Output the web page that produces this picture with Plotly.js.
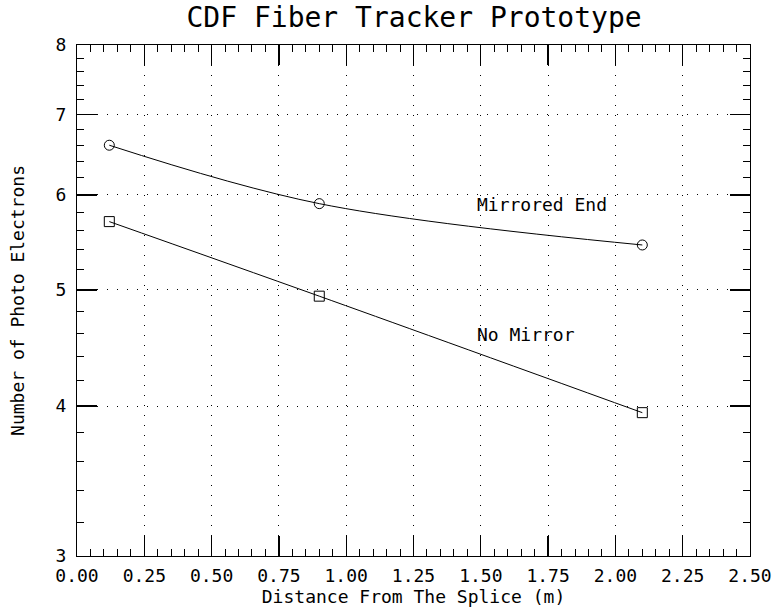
<!DOCTYPE html>
<html>
<head>
<meta charset="utf-8">
<script src="https://cdn.plot.ly/plotly-3.0.1.min.js"></script>
<style>html,body{margin:0;padding:0;background:#fff;}#chart{width:774px;height:607px;}</style>
</head>
<body>
<div id="chart"></div>
<script>
// Data
const distance = [0.12, 0.90, 2.10];
const mirroredEnd = [6.60, 5.90, 5.45];
const noMirror = [5.70, 4.94, 3.95];

const seriesLabels = ["Mirrored End", "No Mirror"];
const labelX = [1.477, 1.477];
const labelY = [5.89, 4.59];

const xTickVals = [0, 0.25, 0.5, 0.75, 1.0, 1.25, 1.5, 1.75, 2.0, 2.25, 2.5];
const xTickText = ["0.00","0.25","0.50","0.75","1.00","1.25","1.50","1.75","2.00","2.25","2.50"];
const xMinorVals = [0.05,0.10,0.15,0.20,0.30,0.35,0.40,0.45,0.55,0.60,0.65,0.70,
                    0.80,0.85,0.90,0.95,1.05,1.10,1.15,1.20,1.30,1.35,1.40,1.45,
                    1.55,1.60,1.65,1.70,1.80,1.85,1.90,1.95,2.05,2.10,2.15,2.20,
                    2.30,2.35,2.40,2.45];
const yTickVals = [3, 4, 5, 6, 7, 8];
const yTickText = ["3","4","5","6","7","8"];
const yMinorVals = [3.2,3.4,3.6,3.8,4.2,4.4,4.6,4.8,5.2,5.4,5.6,5.8,6.2,6.4,6.6,6.8,7.2,7.4,7.6,7.8];

const FONT = "DejaVu Sans Mono, monospace";
const xRange = [0, 2.5];
const yRange = [Math.log10(3), Math.log10(8)];

const lineStyle = {color: "#000", width: 1, shape: "spline", smoothing: 1};

const traces = [
  {x: distance, y: mirroredEnd, mode: "lines+markers", line: lineStyle,
   marker: {symbol: "circle-open", size: 10, color: "#000", line: {width: 1, color: "#000"}},
   name: seriesLabels[0]},
  {x: distance, y: noMirror, mode: "lines+markers", line: lineStyle,
   marker: {symbol: "square-open", size: 10, color: "#000", line: {width: 1, color: "#000"}},
   name: seriesLabels[1]},
  // carrier traces for the tick overlay axes (draw nothing)
  {x: distance, y: noMirror, xaxis: "x2", yaxis: "y2", mode: "none", hoverinfo: "skip", showlegend: false},
  {x: distance, y: noMirror, xaxis: "x3", yaxis: "y3", mode: "none", hoverinfo: "skip", showlegend: false}
];

const annotations = seriesLabels.map((t, i) => ({
  x: labelX[i], y: Math.log10(labelY[i]), xref: "x", yref: "y",
  text: t, showarrow: false, xanchor: "left", yanchor: "middle",
  font: {family: FONT, size: 18, color: "#000"}
}));

const overlayCommon = {ticks: "inside", tickwidth: 1, tickcolor: "#000", zeroline: false,
  showticklabels: false, showgrid: false, showline: false, mirror: "ticks"};

const layout = {
  width: 774, height: 607,
  margin: {l: 77, r: 24, t: 45, b: 51, pad: 0},
  paper_bgcolor: "#fff", plot_bgcolor: "#fff",
  showlegend: false,
  font: {family: FONT, size: 18, color: "#000"},
  title: {text: "CDF Fiber Tracker Prototype", font: {family: FONT, size: 28, color: "#000"},
          x: 0.535, xanchor: "center", y: 0.972, yanchor: "middle"},
  xaxis: {
    range: xRange, tickmode: "array", tickvals: xTickVals, ticktext: xTickText,
    ticks: "", zeroline: false,
    showline: true, linecolor: "#000", linewidth: 1, mirror: true,
    showgrid: true, gridcolor: "#000", gridwidth: 1, griddash: "1px,9px",
    tickfont: {family: FONT, size: 18, color: "#000"},
    ticklabelstandoff: 3,
    title: {text: "Distance From The Splice (m)", font: {family: FONT, size: 18, color: "#000"}, standoff: 0}
  },
  yaxis: {
    type: "log", range: yRange,
    tickmode: "array", tickvals: yTickVals, ticktext: yTickText,
    ticks: "", zeroline: false,
    showline: true, linecolor: "#000", linewidth: 1, mirror: true,
    showgrid: true, gridcolor: "#000", gridwidth: 1, griddash: "1px,9px",
    tickfont: {family: FONT, size: 18, color: "#000"},
    ticklabelstandoff: 6,
    title: {text: "Number of Photo Electrons", font: {family: FONT, size: 18, color: "#000"}, standoff: 26}
  },
  // minor ticks
  xaxis2: Object.assign({}, overlayCommon, {
    overlaying: "x", anchor: "y2", range: xRange, tickmode: "array", tickvals: xMinorVals, ticklen: 7
  }),
  yaxis2: Object.assign({}, overlayCommon, {
    overlaying: "y", anchor: "x2", type: "log", range: yRange, tickmode: "array", tickvals: yMinorVals, ticklen: 7
  }),
  // major ticks
  xaxis3: Object.assign({}, overlayCommon, {
    overlaying: "x", anchor: "y3", range: xRange, tickmode: "array", tickvals: xTickVals, ticklen: 20,
    tickwidth: 1.3
  }),
  yaxis3: Object.assign({}, overlayCommon, {
    overlaying: "y", anchor: "x3", type: "log", range: yRange, tickmode: "array", tickvals: yTickVals, ticklen: 20,
    tickwidth: 1.3
  }),
  annotations: annotations
};

Plotly.newPlot("chart", traces, layout, {displayModeBar: false, staticPlot: true});
</script>
</body>
</html>
